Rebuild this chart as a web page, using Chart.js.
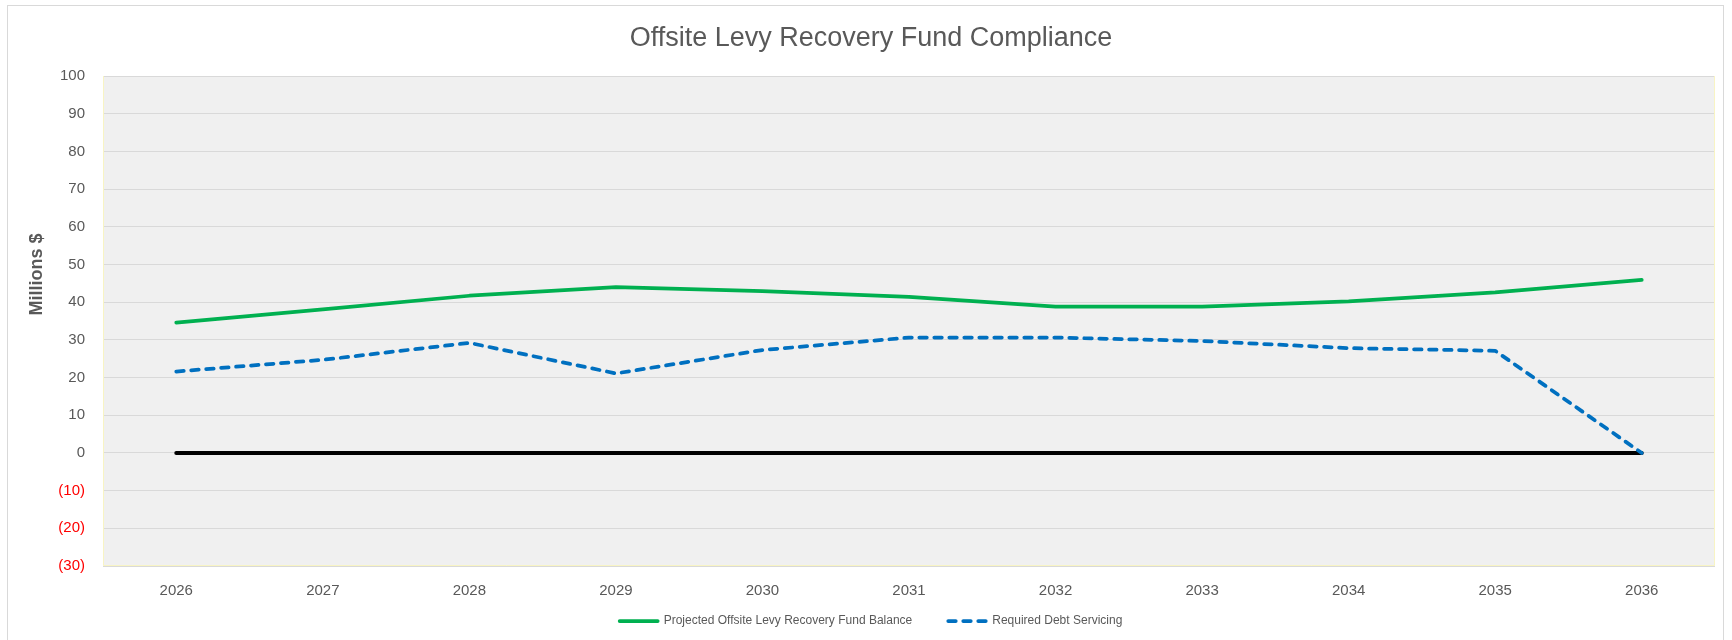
<!DOCTYPE html>
<html>
<head>
<meta charset="utf-8">
<script src="https://cdn.jsdelivr.net/npm/chart.js@4.4.1/dist/chart.umd.min.js"></script>
<style>
  html, body { margin: 0; padding: 0; background: #fff; }
  #wrap { width: 1732px; height: 640px; }
</style>
</head>
<body>
<div id="wrap"><canvas id="levy"></canvas></div>
<script>
// values (millions $)
const years = ['2026', '2027', '2028', '2029', '2030', '2031', '2032', '2033', '2034', '2035', '2036'];
const fundBalance = [34.6, 38.1, 41.7, 44.0, 42.9, 41.4, 38.8, 38.8, 40.2, 42.6, 45.9];
const debtServicing = [21.6, 24.7, 29.2, 21.1, 27.3, 30.6, 30.6, 29.7, 27.8, 27.1, 0];
const zeroLine = [0, 0, 0, 0, 0, 0, 0, 0, 0, 0, 0];
const yMin = -30, yMax = 100, yStep = 10;

const FONT = "'Liberation Sans', Arial, sans-serif";
const TEXT = '#595959';

// plot background, outer frame and the y axis title
const chartFrame = {
  id: 'chartFrame',
  beforeDraw(chart) {
    const {ctx, chartArea: a} = chart;
    ctx.save();
    ctx.strokeStyle = '#d9d9d9';
    ctx.lineWidth = 1;
    ctx.strokeRect(7.5, 5.5, 1716, 650);
    ctx.fillStyle = '#f0f0f0';
    ctx.fillRect(a.left, a.top, a.right - a.left, a.bottom - a.top);
    ctx.restore();
  },
  beforeDatasetsDraw(chart) {
    const {ctx, chartArea: a} = chart;
    ctx.save();
    ctx.strokeStyle = '#f8f4c4';
    ctx.lineWidth = 1;
    ctx.beginPath();
    ctx.moveTo(a.left + 0.5, a.top);
    ctx.lineTo(a.left + 0.5, a.bottom - 0.5);
    ctx.lineTo(a.right - 0.5, a.bottom - 0.5);
    ctx.lineTo(a.right - 0.5, a.top);
    ctx.stroke();
    ctx.restore();
  },
  afterDraw(chart) {
    const ctx = chart.ctx;
    ctx.save();
    ctx.translate(37.5, 274.5);
    ctx.rotate(-Math.PI / 2);
    ctx.font = 'bold 18px ' + FONT;
    ctx.fillStyle = TEXT;
    ctx.textAlign = 'center';
    ctx.textBaseline = 'middle';
    ctx.fillText('Millions $', 0, 0);
    ctx.restore();
  }
};

new Chart(document.getElementById('levy'), {
  type: 'line',
  data: {
    labels: years,
    datasets: [
      {
        label: 'Projected Offsite Levy Recovery Fund Balance',
        data: fundBalance,
        borderColor: '#00b050',
        backgroundColor: '#00b050',
        borderWidth: 3.75,
        borderCapStyle: 'round',
        borderJoinStyle: 'round'
      },
      {
        label: 'Required Debt Servicing',
        data: debtServicing,
        borderColor: '#0070c0',
        backgroundColor: '#0070c0',
        borderWidth: 3.75,
        borderDash: [7.5, 7.5],
        borderCapStyle: 'round',
        borderJoinStyle: 'round'
      },
      {
        label: 'Zero',
        data: zeroLine,
        borderColor: '#000000',
        backgroundColor: '#000000',
        borderWidth: 4,
        borderCapStyle: 'round'
      }
    ]
  },
  options: {
    responsive: true,
    maintainAspectRatio: false,
    animation: false,
    elements: { point: { radius: 0, hoverRadius: 0 }, line: { tension: 0, fill: false } },
    layout: { padding: { left: 27, right: 17, top: 6, bottom: 3 } },
    plugins: {
      title: {
        display: true,
        text: 'Offsite Levy Recovery Fund Compliance',
        color: TEXT,
        font: { family: FONT, size: 27, weight: 'normal' },
        padding: { top: 16, bottom: 21.6 }
      },
      legend: {
        position: 'bottom',
        labels: {
          color: TEXT,
          font: { family: FONT, size: 12 },
          usePointStyle: true,
          pointStyle: 'line',
          pointStyleWidth: 38,
          padding: 36,
          filter: item => item.datasetIndex < 2,
          // take dash and width from the line, not from its (hidden) points
          generateLabels(chart) {
            const items = Chart.defaults.plugins.legend.labels.generateLabels(chart);
            items.forEach(it => {
              const ds = chart.data.datasets[it.datasetIndex];
              it.lineDash = ds.borderDash || [];
              it.lineWidth = ds.borderWidth;
              it.lineCap = ds.borderCapStyle;
            });
            return items;
          }
        }
      },
      tooltip: { enabled: false }
    },
    scales: {
      x: {
        offset: true,
        grid: { display: false, drawTicks: false },
        border: { display: false },
        // mirrored labels are not clipped to the (shortened) axis box
        ticks: { color: TEXT, font: { family: FONT, size: 15 }, mirror: true, padding: -34 },
        afterFit(scale) { scale.height = 13; }
      },
      y: {
        min: yMin,
        max: yMax,
        grid: { color: '#d9d9d9', drawTicks: false },
        border: { display: false },
        ticks: {
          stepSize: yStep,
          padding: 18,
          font: { family: FONT, size: 15 },
          color: ctx => ctx.tick.value < 0 ? '#ff0000' : TEXT,
          callback: v => v < 0 ? '(' + (-v) + ')' : String(v)
        },
        afterFit(scale) { scale.width = 76; }
      }
    }
  },
  plugins: [chartFrame]
});
</script>
</body>
</html>
